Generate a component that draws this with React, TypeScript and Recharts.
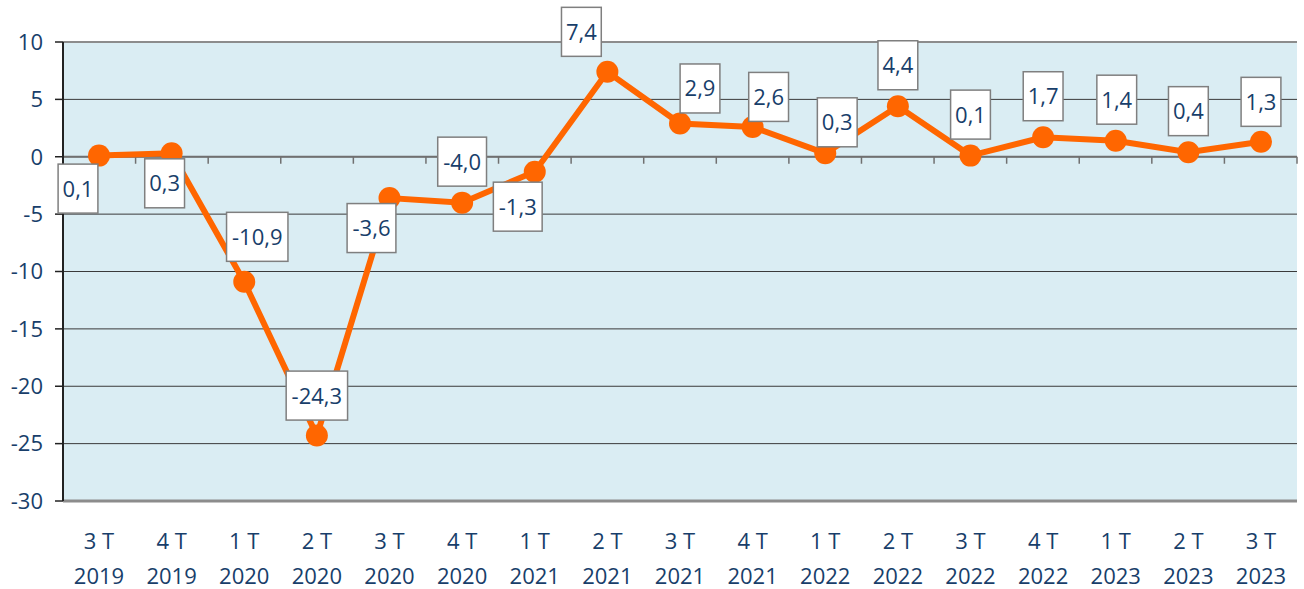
import {
  LineChart,
  Line,
  XAxis,
  YAxis,
  CartesianGrid,
  ReferenceLine,
  LabelList,
} from "recharts";

const quarters = ["3 T", "4 T", "1 T", "2 T", "3 T", "4 T", "1 T", "2 T", "3 T", "4 T", "1 T", "2 T", "3 T", "4 T", "1 T", "2 T", "3 T"];
const years = ["2019", "2019", "2020", "2020", "2020", "2020", "2021", "2021", "2021", "2021", "2022", "2022", "2022", "2022", "2023", "2023", "2023"];
const growth = [0.1, 0.3, -10.9, -24.3, -3.6, -4.0, -1.3, 7.4, 2.9, 2.6, 0.3, 4.4, 0.1, 1.7, 1.4, 0.4, 1.3];
const yTicks = [-30, -25, -20, -15, -10, -5, 0, 5, 10];

// where each label box sits, relative to its point (box centre)
const labelOffsets: [number, number][] = [
  [-21, 33], [-7, 30], [13, -45], [0, -40], [-18, 30], [0, -41], [-17, 35], [-26, -40], [20, -35],
  [16, -30], [12, -31], [0, -41], [0, -41], [0, -41], [1, -41], [0, -41], [0, -40],
];

const data = growth.map((v, i) => ({ period: `${quarters[i]} ${years[i]}`, value: v }));

const TEXT = "#183E6A";
const FONT = "'Open Sans', sans-serif";

const fmt = (v: number) => v.toFixed(1).replace(".", ",");

function textWidth(s: string) {
  let w = 0;
  for (const c of s) w += c === "," ? 5.6 : c === "-" ? 9 : 12.6;
  return w;
}

function BoxLabel(props: any) {
  const { x, y, value, index } = props;
  const [dx, dy] = labelOffsets[index] ?? [0, -40];
  const s = fmt(value);
  const w = textWidth(s) + 9;
  const h = 49;
  const cx = x + dx;
  const cy = y + dy;
  return (
    <g>
      <rect x={cx - w / 2} y={cy - h / 2} width={w} height={h} fill="#fff" stroke="#7f7f7f" strokeWidth={1.5} />
      <text x={cx} y={cy + 8} textAnchor="middle" fontSize={22} fontFamily={FONT} fill={TEXT}>
        {s}
      </text>
    </g>
  );
}

function PeriodTick(props: any) {
  const { x, y, payload } = props;
  const i = payload.index;
  return (
    <g>
      <text x={x} y={y + 48} textAnchor="middle" fontSize={22} fontFamily={FONT} fill={TEXT}>
        {quarters[i]}
      </text>
      <text x={x} y={y + 83} textAnchor="middle" fontSize={22} fontFamily={FONT} fill={TEXT}>
        {years[i]}
      </text>
    </g>
  );
}

function ZeroLine(props: any) {
  const { x1, y1, x2 } = props;
  const n = quarters.length;
  const step = (x2 - x1) / n;
  return (
    <g>
      <line x1={x1} y1={y1} x2={x2} y2={y1} stroke="#707070" strokeWidth={2} />
      {quarters.map((_, i) => (
        <line key={i} x1={x1 + (i + 1) * step} y1={y1} x2={x1 + (i + 1) * step} y2={y1 + 7} stroke="#707070" strokeWidth={1.5} />
      ))}
    </g>
  );
}

export default function App() {
  return (
    <div style={{ position: "absolute", left: 0, top: 0, background: "#fff" }}>
      <LineChart width={1304} height={589} data={data} margin={{ top: 42, right: 7, left: 0, bottom: 0 }}>
        <CartesianGrid horizontal vertical={false} fill="#DAEDF3" stroke="#3a3a3a" strokeWidth={1} />
        <XAxis
          dataKey="period"
          interval={0}
          padding={{ left: 36, right: 36 }}
          axisLine={false}
          tickLine={false}
          tickSize={0}
          tickMargin={0}
          height={88}
          tick={<PeriodTick />}
        />
        <YAxis
          domain={[-30, 10]}
          ticks={yTicks}
          interval={0}
          width={63}
          tickSize={8}
          tickMargin={12}
          axisLine={{ stroke: "#222", strokeWidth: 2 }}
          tickLine={{ stroke: "#222", strokeWidth: 1.5 }}
          tick={{ fontSize: 22, fontFamily: FONT, fill: TEXT }}
        />
        <YAxis
          yAxisId="frame"
          orientation="right"
          domain={[-30, 10]}
          width={0}
          tick={false}
          tickLine={false}
          axisLine={{ stroke: "#8c8c8c", strokeWidth: 2 }}
        />
        <ReferenceLine y={10} stroke="#8c8c8c" strokeWidth={2} />
        <ReferenceLine y={-30} stroke="#8c8c8c" strokeWidth={3} />
        <ReferenceLine y={0} shape={<ZeroLine />} />
        <Line
          dataKey="value"
          stroke="#FF6600"
          strokeWidth={6}
          dot={{ r: 11, fill: "#FF6600", stroke: "none" }}
          activeDot={false}
          isAnimationActive={false}
        >
          <LabelList dataKey="value" content={<BoxLabel />} />
        </Line>
      </LineChart>
    </div>
  );
}
